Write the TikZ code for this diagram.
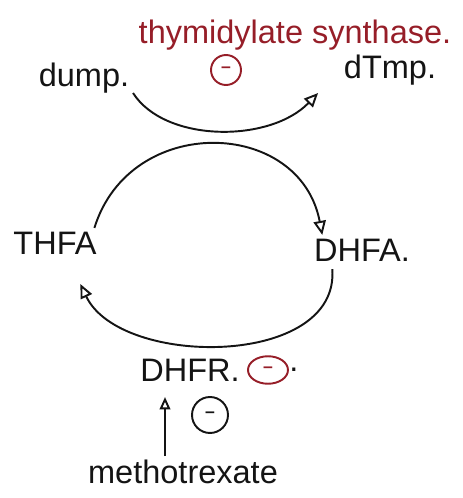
\documentclass[tikz,border=0pt]{standalone}
\usepackage{fontspec}
\setmainfont{Liberation Sans}
\usepackage{tikz}
\usetikzlibrary{arrows.meta, positioning, calc, shapes.geometric}
\definecolor{inkred}{RGB}{150, 30, 40}
\definecolor{ink}{RGB}{20, 20, 20}

\begin{document}
\begin{tikzpicture}[
            x=0.02cm, y=0.02cm,
            lbl/.style={text=ink, inner sep=2pt, font=\fontsize{18.5}{22}\selectfont},
            enz/.style={text=inkred, inner sep=2pt, font=\fontsize{18.5}{22}\selectfont},
            minus/.style={circle, draw=#1, line width=1.1pt, text=#1, inner sep=0pt, minimum size=0.55cm, font=\bfseries},
            cyc/.style={-{Triangle[open, length=8pt, width=7pt]}, line width=1.1pt, ink},
            inhib/.style={-{Triangle[open, length=7pt, width=6pt]}, line width=1.1pt, ink}
        ]
            \useasboundingbox (0,0) rectangle (463,498);
            \node[enz] (ts) at (295,463) {thymidylate synthase.};
            \node[minus=inkred, minimum size=0.6cm] (tsminus) at (226,428) {--};
            \node[lbl] (dump) at (84,420) {dump.};
            \node[lbl] (dtmp) at (390,428) {dTmp.};
            \node[lbl] (thfa) at (55,255) {THFA};
            \node[lbl] (dhfa) at (362,248) {DHFA.};
            \node[lbl] (dhfr) at (190,128) {DHFR.};
            \node[minus=inkred, ellipse, minimum width=0.8cm, minimum height=0.55cm, right=2pt of dhfr] (dhfrminus) {--};
            \node[lbl, right=0pt of dhfrminus, inner sep=0pt] (dhfrdot) {.};
            \node[lbl] (mtx) at (183,26) {methotrexate};
            \node[minus=ink, minimum size=0.72cm] (mtxminus) at (210,83) {--};
            
            \draw[cyc] ($(dump.south east)+(0,4)$) .. controls (165,355) and (270,355) .. ($(dtmp.south west)+(-22,-4)$);
            \draw[cyc] ($(thfa.north east)+(-6,0)$) .. controls (130,385) and (300,380) .. ($(dhfa.north west)+(12,0)$);
            \draw[cyc] ($(dhfa.south west)+(22,-4)$) .. controls (340,130) and (120,130) .. ($(thfa.south east)+(-20,-26)$);
            \draw[inhib] ($(mtx.north)+(-18,0)$) -- ($(dhfr.south)+(-25,-12)$);
        \end{tikzpicture}
\end{document}
